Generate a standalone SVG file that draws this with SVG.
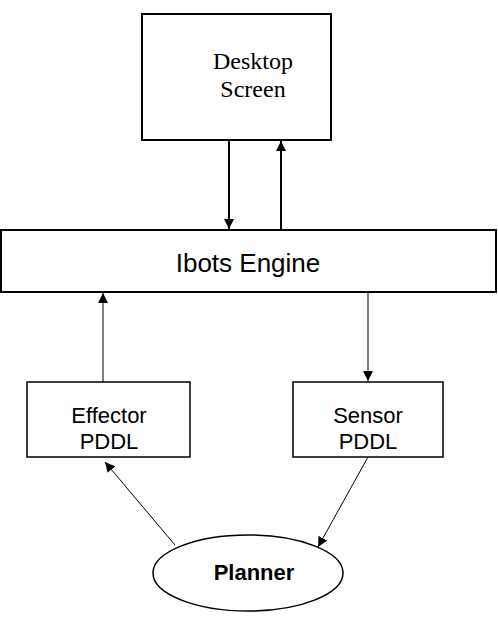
<svg xmlns="http://www.w3.org/2000/svg" width="498" height="618" viewBox="0 0 498 618">
<style>
.box{fill:#fff;stroke:#000}
.sans{font-family:"Liberation Sans",Arial,sans-serif;fill:#000;text-anchor:middle}
.serif{font-family:"Liberation Serif","Times New Roman",serif;fill:#000;text-anchor:middle}
.ln{stroke:#000;fill:none}
</style>
<defs>
<marker id="ah" viewBox="0 0 10 10" refX="10" refY="5" markerWidth="10" markerHeight="10" markerUnits="userSpaceOnUse" orient="auto">
<path d="M0,0 L10,5 L0,10 z" fill="#000"/>
</marker>
</defs>
<rect width="498" height="618" fill="#fff"/>
<g id="desktop">
<rect class="box" x="142" y="14" width="189" height="126" stroke-width="2"/>
<text class="serif" x="253" y="69" font-size="24">Desktop</text>
<text class="serif" x="253" y="97" font-size="24">Screen</text>
</g>
<g id="engine">
<rect class="box" x="1" y="230" width="495" height="62" stroke-width="2"/>
<text class="sans" x="248" y="272" font-size="26">Ibots Engine</text>
</g>
<g id="effector">
<rect class="box" x="27" y="382" width="163" height="75" stroke-width="1.5"/>
<text class="sans" x="109" y="423" font-size="22">Effector</text>
<text class="sans" x="109" y="449" font-size="22">PDDL</text>
</g>
<g id="sensor">
<rect class="box" x="293" y="382" width="150" height="75" stroke-width="1.5"/>
<text class="sans" x="368" y="423" font-size="22">Sensor</text>
<text class="sans" x="368" y="449" font-size="22">PDDL</text>
</g>
<g id="planner">
<ellipse class="box" cx="248" cy="573" rx="95" ry="38" stroke-width="1.5"/>
<text class="sans" x="254" y="580" font-size="22" font-weight="bold">Planner</text>
</g>
<g id="connectors">
<line class="ln" x1="229" y1="140" x2="229" y2="229" stroke-width="2" marker-end="url(#ah)"/>
<line class="ln" x1="281" y1="230" x2="281" y2="141" stroke-width="2" marker-end="url(#ah)"/>
<line class="ln" x1="103" y1="382" x2="103" y2="293" stroke-width="1" marker-end="url(#ah)"/>
<line class="ln" x1="368" y1="292" x2="368" y2="381" stroke-width="1" marker-end="url(#ah)"/>
<line class="ln" x1="175" y1="545" x2="105" y2="462" stroke-width="1" marker-end="url(#ah)"/>
<line class="ln" x1="368" y1="457" x2="318" y2="547" stroke-width="1" marker-end="url(#ah)"/>
</g>
</svg>
